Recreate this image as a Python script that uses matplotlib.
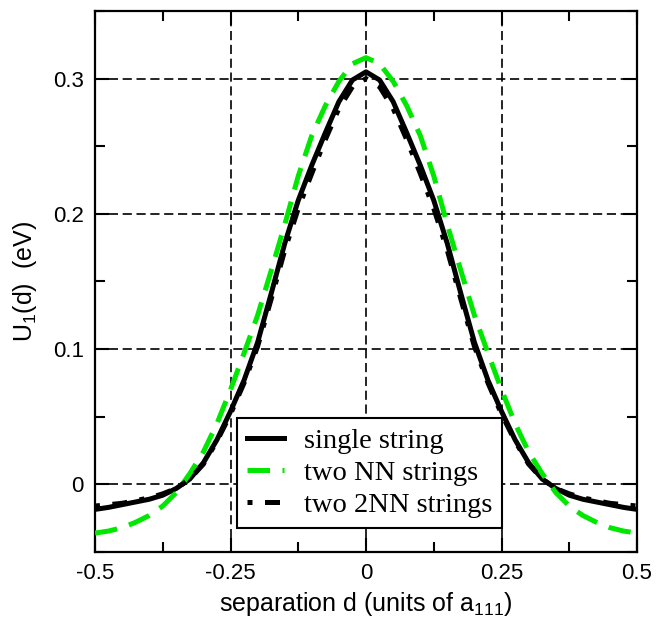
import matplotlib
matplotlib.use('Agg')
import matplotlib.pyplot as plt
from matplotlib.ticker import MultipleLocator

# separation d (units of a111)
d = [-0.5, -0.475, -0.45, -0.425, -0.4, -0.375, -0.35, -0.325, -0.3, -0.275,
     -0.25, -0.225, -0.2, -0.175, -0.15, -0.125, -0.1, -0.075, -0.05, -0.025,
     0.0,
     0.025, 0.05, 0.075, 0.1, 0.125, 0.15, 0.175, 0.2, 0.225, 0.25,
     0.275, 0.3, 0.325, 0.35, 0.375, 0.4, 0.425, 0.45, 0.475, 0.5]

# U1(d) in eV
single = [-0.0185, -0.017, -0.015, -0.013, -0.011, -0.008, -0.003, 0.004, 0.016, 0.033,
          0.054, 0.077, 0.105, 0.141, 0.178, 0.210, 0.236, 0.260, 0.283, 0.299,
          0.305,
          0.299, 0.283, 0.260, 0.236, 0.210, 0.178, 0.141, 0.105, 0.077, 0.054,
          0.033, 0.016, 0.004, -0.003, -0.008, -0.011, -0.013, -0.015, -0.017, -0.0185]

nn = [-0.036, -0.0345, -0.032, -0.028, -0.023, -0.016, -0.006, 0.008, 0.024, 0.045,
      0.070, 0.097, 0.125, 0.158, 0.192, 0.228, 0.258, 0.280, 0.298, 0.311,
      0.3155,
      0.311, 0.298, 0.280, 0.258, 0.228, 0.192, 0.158, 0.125, 0.097, 0.070,
      0.045, 0.024, 0.008, -0.006, -0.016, -0.023, -0.028, -0.032, -0.0345, -0.036]

nn2 = [-0.016, -0.015, -0.014, -0.012, -0.010, -0.007, -0.003, 0.004, 0.015, 0.032,
       0.052, 0.075, 0.102, 0.137, 0.173, 0.204, 0.230, 0.255, 0.278, 0.294,
       0.300,
       0.294, 0.278, 0.255, 0.230, 0.204, 0.173, 0.137, 0.102, 0.075, 0.052,
       0.032, 0.015, 0.004, -0.003, -0.007, -0.010, -0.012, -0.014, -0.015, -0.016]

labels = ['single string', 'two NN strings', 'two 2NN strings']
xticks = [-0.5, -0.25, 0, 0.25, 0.5]
xticklabels = ['-0.5', '-0.25', '0', '0.25', '0.5']
yticks = [0, 0.1, 0.2, 0.3]
yticklabels = ['0', '0.1', '0.2', '0.3']

plt.rcParams['font.family'] = ['Liberation Sans', 'DejaVu Sans']
plt.rcParams['mathtext.default'] = 'regular'

fig = plt.figure(figsize=(6.57, 6.21), dpi=100)
ax = fig.add_axes([0.1446, 0.1111, 0.825, 0.8712])

ax.plot(d, single, color='black', lw=3.6, label=labels[0], zorder=3,
        solid_joinstyle='round')
ax.plot(d, nn, color='#00e800', lw=3.6, ls=(0, (4.5, 2.5)), label=labels[1], zorder=4)
ax.plot(d, nn2, color='black', lw=3.6, ls=(0, (1, 2.5, 3, 2.5)), label=labels[2], zorder=5)

ax.set_xlim(-0.5, 0.5)
ax.set_ylim(-0.05, 0.35)
ax.set_xticks(xticks)
ax.set_xticklabels(xticklabels)
ax.set_yticks(yticks)
ax.set_yticklabels(yticklabels)
ax.xaxis.set_minor_locator(MultipleLocator(0.125))
ax.yaxis.set_minor_locator(MultipleLocator(0.05))
ax.tick_params(which='both', direction='in', top=True, right=True, width=1.5,
               labelsize=16, pad=8)
ax.tick_params(which='major', length=10)
ax.tick_params(which='minor', length=7)
for s in ax.spines.values():
    s.set_linewidth(1.6)

ax.grid(True, which='major', color='black', ls=(0, (5.5, 2.8)), lw=1.2, zorder=1)

ax.set_xlabel('separation d (units of a$_{111}$)', fontsize=18, labelpad=4)
ax.set_ylabel('U$_1$(d)  (eV)', fontsize=18, labelpad=10)

leg = ax.legend(loc='lower left', bbox_to_anchor=(0.262, 0.044),
                prop={'family': 'Liberation Serif', 'size': 20.5},
                frameon=True, fancybox=False, edgecolor='black', framealpha=1,
                handlelength=1.3, handletextpad=0.7, borderpad=0.35,
                labelspacing=0.22, borderaxespad=0)
leg.get_frame().set_linewidth(1.5)

fig.savefig('out.png', dpi=100)
